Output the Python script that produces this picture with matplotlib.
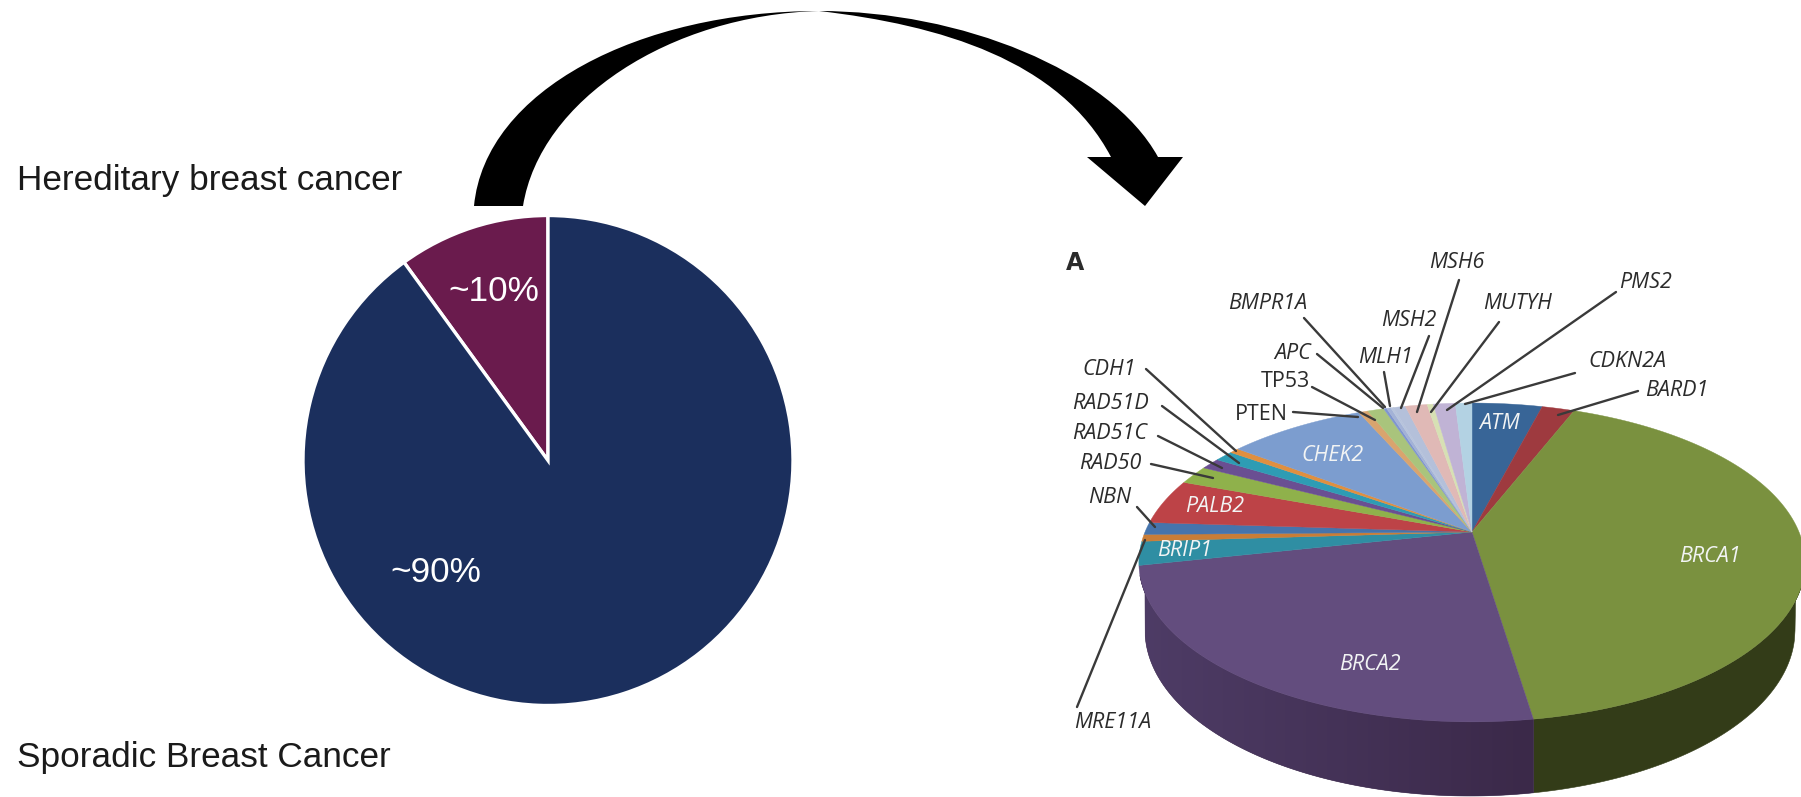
"""Sporadic vs hereditary breast cancer, with the gene breakdown as a tilted 3D pie."""

import matplotlib
matplotlib.use('Agg')
import matplotlib.pyplot as plt
from matplotlib.colors import LinearSegmentedColormap
from matplotlib.patches import PathPatch, Polygon
from matplotlib.path import Path
import numpy as np

W, H = 1801, 797

OVERVIEW_VALUES = [10, 90]
OVERVIEW_COLORS = ['#6a1b4d', '#1b2f5d']

# clockwise from twelve o'clock
GENES = ['ATM', 'BARD1', 'BRCA1', 'BRCA2', 'BRIP1', 'MRE11A', 'NBN', 'PALB2',
         'RAD50', 'RAD51C', 'RAD51D', 'CDH1', 'CHEK2', 'PTEN', 'TP53', 'APC',
         'BMPR1A', 'MLH1', 'MSH2', 'MSH6', 'MUTYH', 'PMS2', 'CDKN2A']
SHARES = [4.1, 1.9, 41.6, 24.1, 2.4, 0.7, 1.25, 4.6,
          1.9, 1.15, 1.1, 0.55, 8.05, 0.55, 0.95, 0.17,
          0.25, 0.14, 0.72, 1.28, 0.36, 1.28, 0.97]
GENE_COLORS = ['#386597', '#9e3a3f', '#7a913f', '#634d7e', '#2f8ea3', '#c97d37',
               '#4674ac', '#bd4347', '#8fb14b', '#6a4f92', '#2e9cb4', '#e08f3f',
               '#7c9dcf', '#d9a46e', '#a9c47c', '#7f95cf', '#a3b2d6', '#b7c4dc',
               '#b4c0da', '#e0b9b6', '#d7e0b4', '#c0b3d5', '#b3d2e3']

TEXT_FONT = 'Liberation Sans'
GENE_FONT = 'Open Sans'
GENE_TEXT = '#2b2b2b'

# projective squash of the unit disc onto the pie's top face
APEX = (1472, 532)
PROJ_A, PROJ_B, PROJ_E = 327, 153.6, 0.191
# lower rim of the extruded body
RIM_X, RIM_Y, RIM_A, RIM_B = 1470, 630, 325, 166
WALL_TOP = 575


def project(theta):
    u, v = np.sin(theta), np.cos(theta)
    d = 1 + PROJ_E * v
    return APEX[0] + PROJ_A * u / d, APEX[1] - PROJ_B * v / d


def rim_bottom(x, y):
    dx = (x - RIM_X) / RIM_A
    out = RIM_Y + RIM_B * np.sqrt(np.clip(1 - dx**2, 0, None))
    return np.where(np.abs(dx) <= 1, out, y)


fig = plt.figure(figsize=(W / 100, H / 100), dpi=100)
fig.patch.set_facecolor('white')

# left pie
pie_ax = fig.add_axes([(548 - 245) / W, 1 - (460.5 + 245) / H, 490 / W, 490 / H], zorder=0)
wedges, _ = pie_ax.pie(OVERVIEW_VALUES, colors=OVERVIEW_COLORS, startangle=90,
                       counterclock=True, radius=1,
                       wedgeprops=dict(edgecolor='white', linewidth=2.4))
pie_ax.set_xlim(-1, 1)
pie_ax.set_ylim(-1, 1)

ax = fig.add_axes([0, 0, 1, 1], zorder=1)
ax.set_xlim(0, W)
ax.set_ylim(H, 0)
ax.axis('off')

ax.text(17, 180, 'Hereditary breast cancer', fontsize=25.3, family=TEXT_FONT,
        ha='left', va='center', color='#1a1a1a')
ax.text(17, 758, 'Sporadic Breast Cancer', fontsize=25.3, family=TEXT_FONT,
        ha='left', va='center', color='#1a1a1a')
ax.text(494, 291, '~10%', fontsize=25.3, family=TEXT_FONT, ha='center', va='center', color='white')
ax.text(436, 573, '~90%', fontsize=25.3, family=TEXT_FONT, ha='center', va='center', color='white')

# curved arrow between the two pies, pinched to nothing at its crest
arrow_verts = [(474, 206), (485, 90), (640, 11), (819, 11),
               (960, 11), (1110, 70), (1158, 157),
               (1183, 157), (1145, 206), (1087, 157), (1111, 157),
               (1060, 60), (940, 25), (819, 11),
               (670, 15), (540, 100), (523, 206), (474, 206)]
arrow_codes = [Path.MOVETO, Path.CURVE4, Path.CURVE4, Path.CURVE4,
               Path.CURVE4, Path.CURVE4, Path.CURVE4,
               Path.LINETO, Path.LINETO, Path.LINETO, Path.LINETO,
               Path.CURVE4, Path.CURVE4, Path.CURVE4,
               Path.CURVE4, Path.CURVE4, Path.CURVE4, Path.CLOSEPOLY]
ax.add_patch(PathPatch(Path(arrow_verts, arrow_codes), facecolor='black', edgecolor='none'))

# 3D pie: slice bounds come from the gene shares
edges = np.concatenate([[0], np.cumsum(SHARES)]) / np.sum(SHARES) * 2 * np.pi

# side wall first, only the front of the disc shows it
side_tint = {'BRCA1': '#333c18', 'BRCA2': '#463455'}
for gene, t0, t1 in zip(GENES, edges[:-1], edges[1:]):
    if gene not in side_tint:
        continue
    th = np.linspace(t0, t1, 400)
    x, y = project(th)
    keep = y >= WALL_TOP
    x, y = x[keep], y[keep]
    y2 = rim_bottom(x, y)
    pts = np.column_stack([np.r_[x, x[::-1]], np.r_[y, y2[::-1]]])
    poly = Polygon(pts, closed=True, facecolor=side_tint[gene], edgecolor=side_tint[gene],
                   linewidth=0.4, zorder=2)
    ax.add_patch(poly)
    if gene == 'BRCA2':
        # the purple wall darkens towards the front
        grad = np.linspace(0, 1, 256).reshape(1, -1)
        cmap = LinearSegmentedColormap.from_list('wall', ['#4e3c66', '#3b2949'])
        im = ax.imshow(grad, cmap=cmap, extent=(x.min(), x.max(), 800, 560),
                       aspect='auto', zorder=2.1)
        im.set_clip_path(poly)
        ax.set_xlim(0, W)
        ax.set_ylim(H, 0)

for color, t0, t1 in zip(GENE_COLORS, edges[:-1], edges[1:]):
    n = max(int((t1 - t0) * 60), 4)
    x, y = project(np.linspace(t0, t1, n))
    pts = np.column_stack([np.r_[APEX[0], x], np.r_[APEX[1], y]])
    ax.add_patch(Polygon(pts, closed=True, facecolor=color, edgecolor=color,
                         linewidth=0.3, zorder=3))

ax.text(1075, 263, 'A', fontsize=17, family='DejaVu Sans', ha='center', va='center',
        color='#2b2b2b', fontweight='bold', zorder=5)

# names written on the slices
inside_labels = {'ATM': (1500, 423), 'CHEK2': (1333, 455), 'PALB2': (1215, 507),
                 'BRIP1': (1185, 550), 'BRCA1': (1710, 557), 'BRCA2': (1370, 664)}
for gene, (x, y) in inside_labels.items():
    ax.text(x, y, gene, fontsize=15.5, family=GENE_FONT, style='italic',
            ha='center', va='center', color='#f2f4f4', zorder=5)

# outside names: text centre, then the leader line
callouts = {
    'BMPR1A': ((1268, 303), (1304, 318), (1385, 407)),
    'APC': ((1293, 353), (1317, 354), (1383, 408)),
    'TP53': ((1285, 381), (1312, 387), (1375, 420)),
    'PTEN': ((1261, 414), (1293, 412), (1358, 417)),
    'MLH1': ((1385, 357), (1384, 372), (1390, 406)),
    'MSH2': ((1409, 320), (1429, 336), (1401, 408)),
    'MSH6': ((1457, 262), (1459, 280), (1417, 412)),
    'MUTYH': ((1518, 303), (1499, 322), (1431, 412)),
    'PMS2': ((1646, 283), (1616, 292), (1447, 410)),
    'CDKN2A': ((1627, 361), (1575, 373), (1465, 404)),
    'BARD1': ((1677, 390), (1638, 391), (1558, 415)),
    'CDH1': ((1109, 369), (1146, 369), (1236, 451)),
    'RAD51D': ((1110, 403), (1162, 406), (1239, 463)),
    'RAD51C': ((1110, 433), (1158, 436), (1222, 468)),
    'RAD50': ((1110, 463), (1151, 464), (1213, 478)),
    'NBN': ((1110, 497), (1137, 507), (1155, 527)),
    'MRE11A': ((1113, 722), (1077, 707), (1145, 540)),
}
upright = {'TP53', 'PTEN'}
for gene, (pos, start, end) in callouts.items():
    ax.plot([start[0], end[0]], [start[1], end[1]], color='#3a3a3a', lw=1.7, zorder=4,
            solid_capstyle='round')
    ax.text(pos[0], pos[1], gene, fontsize=15.5, family=GENE_FONT,
            style='normal' if gene in upright else 'italic',
            ha='center', va='center', color=GENE_TEXT, zorder=5)

plt.savefig('out.png', dpi=100, facecolor='white')
plt.close()
